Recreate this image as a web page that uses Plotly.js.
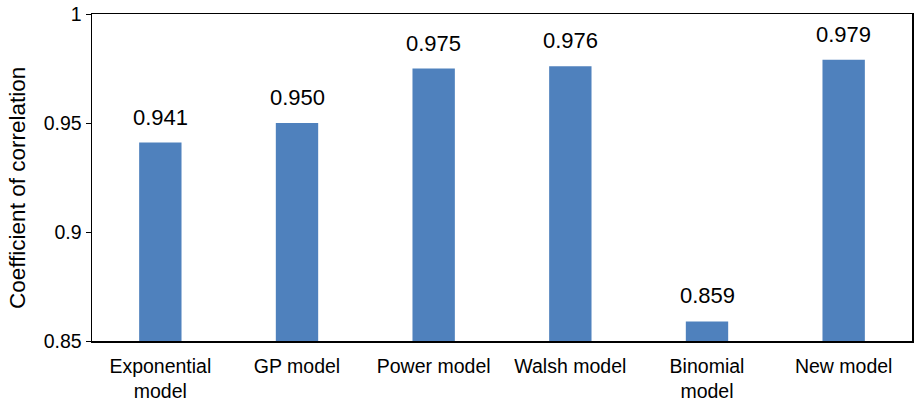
<!DOCTYPE html>
<html>
<head>
<meta charset="utf-8">
<script src="https://cdn.plot.ly/plotly-3.0.1.min.js"></script>
<style>
  html, body { margin: 0; padding: 0; background: #fff; }
  #chart { width: 915px; height: 403px; }
</style>
</head>
<body>
<div id="chart"></div>
<script>
// Correlation coefficient of each model
const models = ["Exponential<br>model", "GP model", "Power model", "Walsh model", "Binomial<br>model", "New model"];
const coefficients = [0.941, 0.950, 0.975, 0.976, 0.859, 0.979];
const yTickValues = [0.85, 0.9, 0.95, 1];
const yTickLabels = ["0.85", "0.9", "0.95", "1"];
const yTitle = "Coefficient of correlation";

const font = "Liberation Sans, Arial, sans-serif";

const trace = {
  type: "bar",
  x: models,
  y: coefficients,
  base: 0,
  marker: { color: "#4F81BD", line: { width: 0 } },
  width: 0.31,
  hoverinfo: "x+y"
};

// value labels placed just above each bar
const labels = models.map((m, i) => ({
  x: m,
  y: coefficients[i],
  text: coefficients[i].toFixed(3),
  showarrow: false,
  yanchor: "bottom",
  yshift: 11,
  font: { family: font, size: 22, color: "#000" }
}));

// y-axis title, set slightly below the plot's vertical centre
labels.push({
  xref: "paper",
  yref: "paper",
  x: -0.091,
  y: 0.469,
  xanchor: "center",
  yanchor: "middle",
  textangle: -90,
  text: yTitle,
  showarrow: false,
  font: { family: font, size: 22.5, color: "#000" }
});

const layout = {
  width: 915,
  height: 403,
  margin: { l: 92, r: 3, t: 14, b: 62 },
  paper_bgcolor: "#fff",
  plot_bgcolor: "#fff",
  showlegend: false,
  font: { family: font, color: "#000" },
  xaxis: {
    showline: true,
    linecolor: "#000",
    linewidth: 1.5,
    mirror: true,
    ticks: "",
    ticklabelstandoff: 7,
    tickfont: { family: font, size: 19.5, color: "#000" },
    showgrid: false,
    fixedrange: true
  },
  yaxis: {
    range: [0.85, 1],
    tickvals: yTickValues,
    ticktext: yTickLabels,
    ticks: "outside",
    ticklen: 5,
    tickwidth: 1,
    tickcolor: "#000",
    showline: true,
    linecolor: "#000",
    linewidth: 1.5,
    mirror: true,
    showgrid: false,
    zeroline: false,
    tickfont: { family: font, size: 19.5, color: "#000" },
    fixedrange: true
  },
  annotations: labels
};

Plotly.newPlot("chart", [trace], layout, { displayModeBar: false, staticPlot: true });
</script>
</body>
</html>
